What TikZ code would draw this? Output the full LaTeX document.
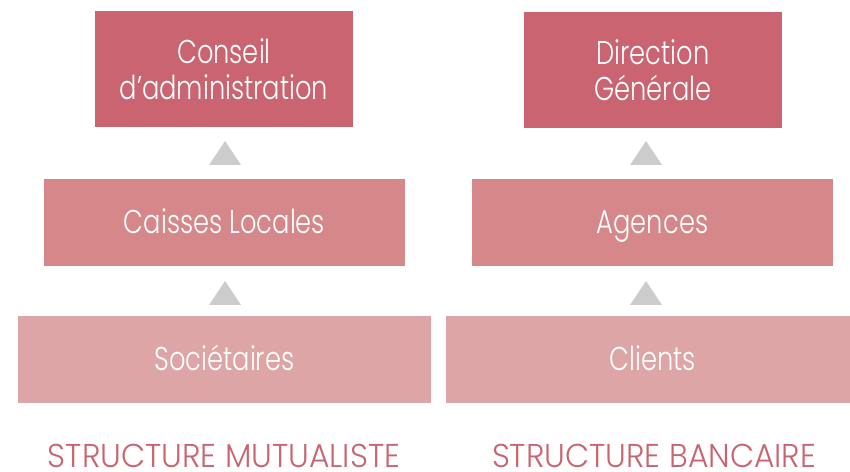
\documentclass[tikz,border=0pt]{standalone}
\usepackage{fontspec}
\setmainfont{Poppins}[UprightFont=* Light, FakeStretch=0.78]
\newfontfamily\capfont{Poppins}[UprightFont=* Light, FakeStretch=0.95]
\definecolor{topc}{RGB}{201,100,112}
\definecolor{midc}{RGB}{213,135,138}
\definecolor{botc}{RGB}{222,165,167}
\definecolor{tric}{RGB}{204,204,204}
\definecolor{labc}{RGB}{201,99,111}
\tikzset{
  box/.style={fill=#1, draw=none, text=white, inner sep=0pt, align=center,
    font=\fontsize{33}{36}\selectfont},
  topbox/.style={box=topc, minimum width=258pt, minimum height=116pt},
  midbox/.style={box=midc, minimum width=361pt, minimum height=87pt, text height=22pt, text depth=0pt},
  botbox/.style={box=botc, minimum width=413pt, minimum height=87pt, text height=22pt, text depth=0pt},
  caption/.style={text=labc, inner sep=0pt, anchor=base, text depth=0pt,
    font=\capfont\fontsize{33}{36}\selectfont},
}
\begin{document}
\begin{tikzpicture}[x=1pt,y=1pt]
\useasboundingbox (0,0) rectangle (850,471);
\clip (0,0) rectangle (850,471);
% left column
\node[topbox] (ca) at (224,402) {Conseil\\d’administration};
\node[midbox] (cl) at (224.5,248.5) {Caisses Locales};
\node[botbox] (so) at (224.5,111.5) {Sociétaires};
\node[caption] (lm) at (224,4) {STRUCTURE MUTUALISTE};
% right column
\node[topbox] (dg) at (653,401) {Direction\\Générale};
\node[midbox] (ag) at (652.5,248.5) {Agences};
\node[botbox] (cli) at (652.5,111.5) {Clients};
\node[caption] (lb) at (654,4) {STRUCTURE BANCAIRE};
% triangles
\fill[tric] (209,306) -- (241,306) -- (225,330) -- cycle;
\fill[tric] (209,166) -- (241,166) -- (225,190) -- cycle;
\fill[tric] (630,306) -- (662,306) -- (646,330) -- cycle;
\fill[tric] (630,166) -- (662,166) -- (646,190) -- cycle;
\end{tikzpicture}
\end{document}
